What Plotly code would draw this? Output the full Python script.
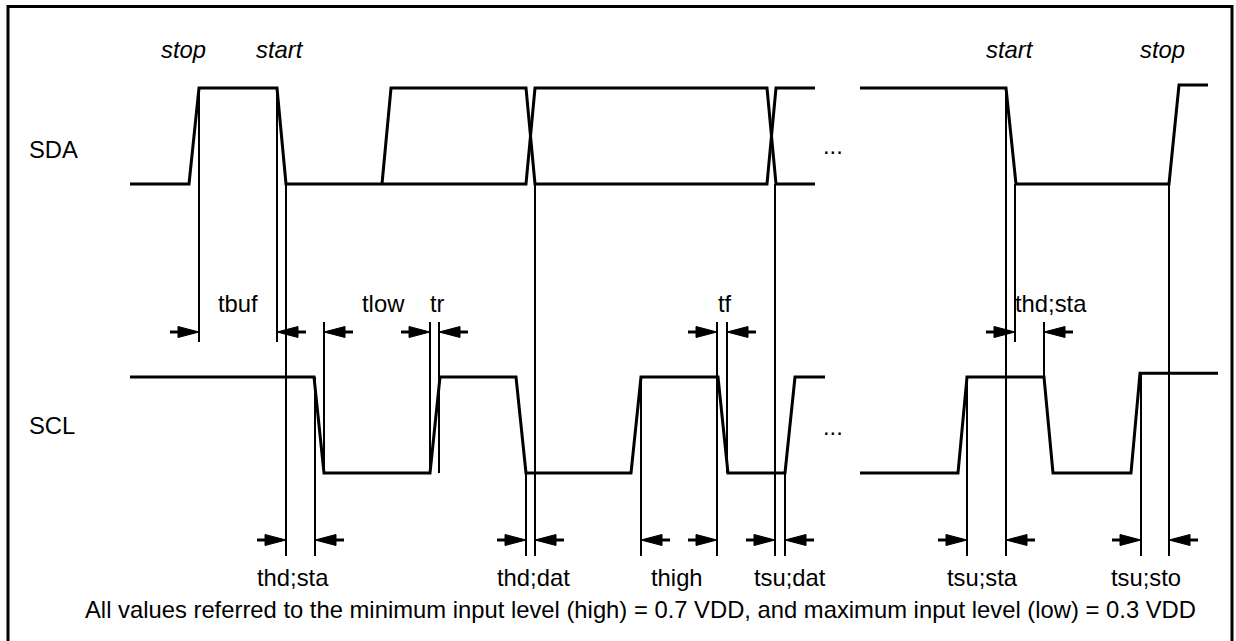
import plotly.graph_objects as go

W, H = 1236, 641

# ---- signal levels (pixel-space diagram units) ----
SDA_HI, SDA_LO = 88, 184
SCL_HI, SCL_LO = 377, 473

# ---- SDA waveform (time points, logic level 0/1) ----
sda_a_t = [130, 189, 199, 277, 286, 526, 535, 767, 776, 815]
sda_a_v = [0, 0, 1, 1, 0, 0, 1, 1, 0, 0]
sda_b_t = [382, 391, 526, 535, 767, 776, 815]
sda_b_v = [0, 1, 1, 0, 0, 1, 1]
sda_c_t = [860, 1006, 1016, 1169, 1179, 1208]
sda_c_v = [1, 1, 0, 0, 1.03, 1.03]

# ---- SCL waveform ----
scl_a_t = [130, 314, 324, 430, 440, 516, 526, 631, 641, 718, 728, 785, 795, 825]
scl_a_v = [1, 1, 0, 0, 1, 1, 0, 0, 1, 1, 0, 0, 1, 1]
scl_b_t = [860, 958, 967, 1044, 1053, 1131, 1140, 1218]
scl_b_v = [0, 0, 1, 1, 0, 0, 1.04, 1.04]

# ---- timing reference rows ----
TOP_ARROW_Y = 332
BOT_ARROW_Y = 540
BOT_END = 556

# vertical reference lines: x, top, bottom
vline_x = [199, 277, 286, 315, 324, 430, 439, 717, 727, 526, 535, 641, 775, 785,
           967, 1006, 1015, 1044, 1141, 1169]
vline_top = [88, 88, 184, 377, 322, 322, 322, 322, 322, 473, 184, 377, 184, 473,
             377, 88, 184, 322, 373, 184]
vline_bot = [342, 342, BOT_END, BOT_END, 473, 473, 473, BOT_END, 473, BOT_END, BOT_END,
             BOT_END, BOT_END, BOT_END, BOT_END, BOT_END, 342, 377, BOT_END, BOT_END]

# arrow tips (x) and direction (+1 right-pointing, -1 left-pointing)
top_tip_x = [199, 277, 324, 430, 439, 717, 727, 1015, 1044]
top_tip_d = [1, -1, -1, 1, -1, 1, -1, 1, -1]
bot_tip_x = [286, 315, 526, 535, 641, 717, 775, 785, 967, 1006, 1141, 1169]
bot_tip_d = [1, -1, 1, -1, -1, 1, 1, -1, 1, -1, 1, -1]

# labels
top_labels = ["tbuf", "tlow", "tr", "tf", "thd;sta"]
top_label_x = [238, 383, 437, 725, 1051]
bot_labels = ["thd;sta", "thd;dat", "thigh", "tsu;dat", "tsu;sta", "tsu;sto"]
bot_label_x = [293, 533, 677, 790, 982, 1146]
event_labels = ["stop", "start", "start", "stop"]
event_label_x = [183, 280, 1010, 1162]
footer = ("All values referred to the minimum input level (high) = 0.7 VDD, "
          "and maximum input level (low) = 0.3 VDD")

FONT = "Liberation Sans, Arial, sans-serif"
FS = 23.8


def lvl(v, hi, lo):
    return [lo + (hi - lo) * x for x in v]


fig = go.Figure()
wave = dict(color="black", width=3)


def add_line(x, y, line):
    fig.add_trace(go.Scatter(x=x, y=y, mode="lines", line=line,
                             hoverinfo="skip", showlegend=False))


# frame
add_line([8, 8, 1232, 1232], [700, 6.5, 6.5, 700], dict(color="black", width=3))

add_line(sda_a_t, lvl(sda_a_v, SDA_HI, SDA_LO), wave)
add_line(sda_b_t, lvl(sda_b_v, SDA_HI, SDA_LO), wave)
add_line(sda_c_t, lvl(sda_c_v, SDA_HI, SDA_LO), wave)
add_line(scl_a_t, lvl(scl_a_v, SCL_HI, SCL_LO), wave)
add_line(scl_b_t, lvl(scl_b_v, SCL_HI, SCL_LO), wave)

# vertical references
vx, vy = [], []
for x, t, b in zip(vline_x, vline_top, vline_bot):
    vx += [x, x, None]
    vy += [t, b, None]
add_line(vx, vy, dict(color="black", width=2))

# arrows
HEAD_L, HALF_H, TAIL = 21, 5.5, 8


def arrows(tips, dirs, y):
    tx, ty, lx, ly = [], [], [], []
    for x, d in zip(tips, dirs):
        base = x - d * HEAD_L
        tx += [x, base, base, x, None]
        ty += [y, y - HALF_H, y + HALF_H, y, None]
        lx += [base, base - d * TAIL, None]
        ly += [y, y, None]
    fig.add_trace(go.Scatter(x=tx, y=ty, mode="lines", fill="toself",
                             fillcolor="black", line=dict(color="black", width=1),
                             hoverinfo="skip", showlegend=False))
    add_line(lx, ly, dict(color="black", width=3))


arrows(top_tip_x, top_tip_d, TOP_ARROW_Y)
arrows(bot_tip_x, bot_tip_d, BOT_ARROW_Y)


def text(x, y, s, anchor="center", italic=False):
    fig.add_annotation(x=x, y=y, text=s, showarrow=False, xanchor=anchor,
                       yanchor="middle", xref="x", yref="y",
                       font=dict(family=FONT, size=FS, color="black",
                                 style="italic" if italic else "normal"))


text(27, 149, "SDA", "left")
text(27, 425, "SCL", "left")
text(833, 145, "...")
text(833, 426, "...")
for s, x in zip(event_labels, event_label_x):
    text(x, 49, s, italic=True)
for s, x in zip(top_labels, top_label_x):
    text(x, 303, s)
for s, x in zip(bot_labels, bot_label_x):
    text(x, 577, s)
text(640, 609, footer)

fig.update_layout(
    width=W, height=H, margin=dict(l=0, r=0, t=0, b=0),
    paper_bgcolor="white", plot_bgcolor="white",
    xaxis=dict(range=[0, W], visible=False, fixedrange=True),
    yaxis=dict(range=[H, 0], visible=False, fixedrange=True),
)
fig.write_html("out.html", config={"displayModeBar": False},
               post_script="document.body.style.margin='0';")
